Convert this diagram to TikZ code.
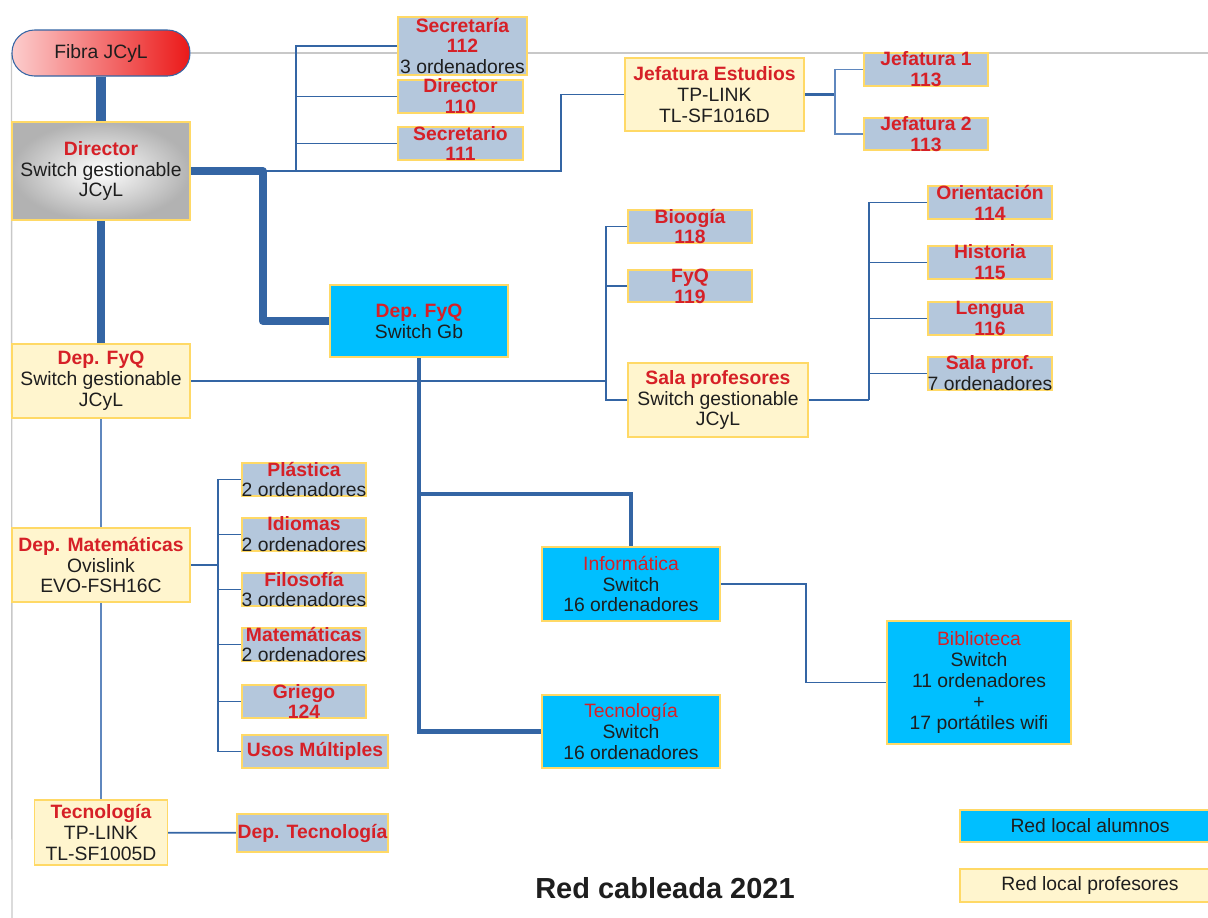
\documentclass[tikz,border=0pt]{standalone}
\usepackage{fontspec}
\setmainfont{Liberation Sans}
\usetikzlibrary{backgrounds}

\definecolor{netblue}{RGB}{52,101,164}
\definecolor{lightnet}{RGB}{95,135,190}
\definecolor{boxline}{RGB}{255,217,102}
\definecolor{profyel}{RGB}{255,245,206}
\definecolor{alucyan}{RGB}{0,191,255}
\definecolor{aulablue}{RGB}{180,199,220}
\definecolor{titred}{RGB}{214,32,39}
\definecolor{txtdark}{RGB}{30,30,30}
\definecolor{framegray}{RGB}{200,200,200}

\newcommand{\rojo}[1]{{\color{titred}\bfseries #1}}

\begin{document}
\begin{tikzpicture}[x=0.02cm, y=-0.02cm,
    every node/.style={font=\fontsize{11}{11.9}\selectfont, text=txtdark},
    box/.style={draw=boxline, line width=0.8pt, inner sep=0pt, align=center},
    prof/.style={box, fill=profyel},
    alum/.style={box, fill=alucyan},
    aula/.style={box, fill=aulablue, minimum width=2.48cm, minimum height=0.66cm},
    lab/.style={align=center, inner sep=0pt},
    txt/.style={label={[lab]center:{#1}}},
    link/.style={draw=netblue, line width=1pt},
    thinlink/.style={draw=lightnet, line width=1pt},
    mid/.style={draw=netblue, line width=1.6pt},
    branch/.style={draw=netblue, line width=2.3pt},
    trunk/.style={draw=netblue, line width=4.5pt, line join=round},
    fib/.style={draw=netblue, line width=6pt},
    frame/.style={draw=framegray, line width=0.8pt}]

    \useasboundingbox (0,0) rectangle (1208,917);

    % top of the tree
    \node[draw=netblue, line width=0.6pt, rounded corners=0.45cm,
          left color={rgb,255:red,252;green,205;blue,205}, right color={rgb,255:red,235;green,25;blue,25},
          minimum width=3.56cm, minimum height=0.92cm] (fibra) at (101,53) {Fibra JCyL};
    \node[box, inner color=white, outer color=gray!60,
          minimum width=3.56cm, minimum height=1.96cm] (dir) at (101,171) {\rojo{Director}\\Switch gestionable\\JCyL};

    % despachos
    \node[aula, minimum width=2.58cm, minimum height=1.16cm, txt={\rojo{Secretaría}\\\rojo{112}\\3 ordenadores}] (secr) at (462.5,46) {};
    \node[aula, minimum width=2.5cm, txt={\rojo{Director}\\\rojo{110}}] (d110) at (460.5,96.5) {};
    \node[aula, minimum width=2.5cm, txt={\rojo{Secretario}\\\rojo{111}}] (s111) at (460.5,143.5) {};

    \node[prof, minimum width=3.58cm, minimum height=1.46cm] (jef) at (714.5,94.5) {\rojo{Jefatura Estudios}\\TP-LINK\\TL-SF1016D};
    \node[aula, txt={\rojo{Jefatura 1}\\\rojo{113}}] (jef1) at (926,69.5) {};
    \node[aula, minimum height=0.64cm, txt={\rojo{Jefatura 2}\\\rojo{113}}] (jef2) at (926,134) {};

    % FyQ
    \node[alum, minimum width=3.56cm, minimum height=1.44cm] (fyqgb) at (419,321) {\rojo{Dep. FyQ}\\Switch Gb};
    \node[prof, minimum width=3.56cm, minimum height=1.48cm] (fyq) at (101,381) {\rojo{Dep. FyQ}\\Switch gestionable\\JCyL};

    \node[aula, txt={\rojo{Bioogía}\\\rojo{118}}] (bio) at (690,226.5) {};
    \node[aula, minimum height=0.64cm, txt={\rojo{FyQ}\\\rojo{119}}] (f119) at (690,286) {};
    \node[prof, minimum width=3.6cm, minimum height=1.48cm] (sala) at (718,400) {\rojo{Sala profesores}\\Switch gestionable\\JCyL};

    \node[aula, txt={\rojo{Orientación}\\\rojo{114}}] (ori) at (990,202.5) {};
    \node[aula, txt={\rojo{Historia}\\\rojo{115}}] (his) at (990,262.5) {};
    \node[aula, txt={\rojo{Lengua}\\\rojo{116}}] (len) at (990,318.5) {};
    \node[aula, txt={\rojo{Sala prof.}\\7 ordenadores}] (salap) at (990,373.5) {};

    % Matematicas
    \node[prof, minimum width=3.56cm, minimum height=1.48cm] (mat) at (101,565) {\rojo{Dep. Matemáticas}\\Ovislink\\EVO-FSH16C};
    \node[aula, txt={\rojo{Plástica}\\2 ordenadores}] (plas) at (304,479.5) {};
    \node[aula, txt={\rojo{Idiomas}\\2 ordenadores}] (idi) at (304,534.5) {};
    \node[aula, txt={\rojo{Filosofía}\\3 ordenadores}] (fil) at (304,589.5) {};
    \node[aula, txt={\rojo{Matemáticas}\\2 ordenadores}] (mate) at (304,644.5) {};
    \node[aula, txt={\rojo{Griego}\\\rojo{124}}] (gri) at (304,701.5) {};
    \node[aula, minimum width=2.92cm, txt={\rojo{Usos Múltiples}}] (usos) at (315,751.5) {};

    \node[prof, minimum width=2.66cm, minimum height=1.3cm] (tec) at (101,832.5) {\rojo{Tecnología}\\TP-LINK\\TL-SF1005D};
    \node[aula, minimum width=3.02cm, minimum height=0.76cm, txt={\rojo{Dep. Tecnología}}] (deptec) at (312.5,833) {};

    % red de alumnos
    \node[alum, minimum width=3.56cm, minimum height=1.48cm] (inf) at (631,584) {{\color{titred}Informática}\\Switch\\16 ordenadores};
    \node[alum, minimum width=3.56cm, minimum height=1.46cm] (tecb) at (631,731.5) {{\color{titred}Tecnología}\\Switch\\16 ordenadores};
    \node[alum, minimum width=3.68cm, minimum height=2.46cm] (bib) at (979,682.5) {{\color{titred}Biblioteca}\\Switch\\11 ordenadores\\+\\17 portátiles wifi};

    % leyenda
    \node[alum, minimum width=5.2cm, minimum height=0.64cm] (leg1) at (1090,826) {Red local alumnos};
    \node[prof, minimum width=5.2cm, minimum height=0.66cm] (leg2) at (1090,885.5) {Red local profesores};
    \node[font=\fontsize{16.5}{18}\selectfont\bfseries] (title) at (665,888) {Red cableada 2021};

    \begin{pgfonlayer}{background}
        \draw[frame] (fibra.east) -- (1212,53);
        \draw[frame] (fibra.west) -- (12,920);

        \draw[fib] (fibra) -- (dir);
        \draw[trunk] (dir) -- (fyq);
        \draw[trunk] (dir.east) -- ++(72,0) |- (fyqgb.west);
        \draw[link] (dir.east) -- ++(370,0) |- (jef.west);
        \foreach \n in {secr,d110,s111}
            \draw[link] (dir.east) ++(105,0) |- (\n.west);

        \draw[mid] (jef.east) -- ++(30,0);
        \foreach \n in {jef1,jef2}
            \draw[thinlink] (jef.east) ++(30,0) |- (\n.west);

        \draw[mid] (fyq.east) -- ++(415,0);
        \foreach \n in {bio,f119,sala}
            \draw[link] (fyq.east) ++(415,0) |- (\n.west);
        \draw[link] (sala.east) -- ++(60,0);
        \foreach \n in {ori,his,len,salap}
            \draw[link] (sala.east) ++(60,0) |- (\n.west);

        \draw[branch] (fyqgb.south) |- (tecb.west);
        \draw[branch] (fyqgb.south) ++(0,136) -| (inf.north);
        \draw[link] (inf.east) -- ++(85,0) |- (bib.west);

        \draw[thinlink] (fyq) -- (mat);
        \draw[thinlink] (mat) -- (tec);
        \draw[mid] (mat.east) -- ++(27,0);
        \foreach \n in {plas,idi,fil,mate,gri,usos}
            \draw[link] (mat.east) ++(27,0) |- (\n.west);
        \draw[link] (tec) -- (deptec);
    \end{pgfonlayer}
\end{tikzpicture}
\end{document}
